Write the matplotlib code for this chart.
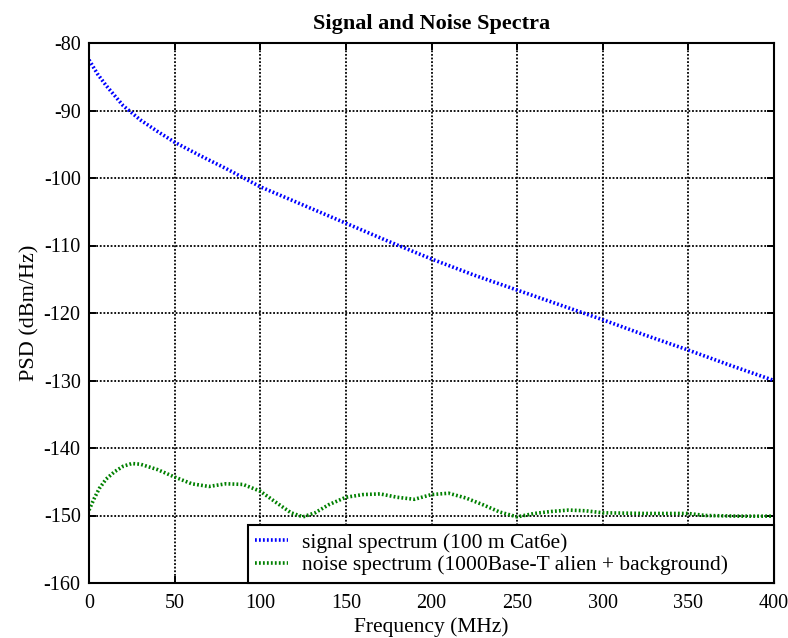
import matplotlib
matplotlib.use("Agg")
import matplotlib.pyplot as plt

plt.rcParams['font.family'] = ['Liberation Serif', 'DejaVu Serif']
plt.rcParams['axes.unicode_minus'] = False

sig_f = [0, 5, 10, 15, 20, 30, 40, 50, 65, 80, 100, 125, 150, 175, 200, 225, 250, 275, 300, 325, 350, 375, 400]
sig_psd = [-82.5, -84.6, -86.3, -87.8, -89.3, -91.4, -93.1, -94.7, -96.7, -98.6, -101.3, -104.0, -106.7, -109.4,
           -112.0, -114.4, -116.6, -118.8, -121.0, -123.3, -125.5, -127.8, -130.0]

noise_f = [0, 3, 6, 10, 15, 20, 25, 30, 40, 50, 60, 70, 80, 90, 100, 110, 118, 125, 132, 140, 150, 160, 170,
           180, 190, 200, 210, 220, 230, 240, 250, 260, 270, 280, 290, 300, 325, 350, 360, 380, 400]
noise_psd = [-149.2, -147.5, -146.0, -144.6, -143.5, -142.7, -142.3, -142.4, -143.2, -144.3, -145.3, -145.7,
             -145.3, -145.4, -146.4, -148.2, -149.6, -150.2, -149.6, -148.4, -147.3, -146.9, -146.8, -147.3,
             -147.6, -146.9, -146.7, -147.4, -148.4, -149.5, -150.2, -149.7, -149.4, -149.2, -149.3, -149.6,
             -149.7, -149.7, -150.0, -150.1, -150.1]

labels = ["signal spectrum (100 m Cat6e)", "noise spectrum (1000Base-T alien + background)"]
xticks = [0, 50, 100, 150, 200, 250, 300, 350, 400]
yticks = [-160, -150, -140, -130, -120, -110, -100, -90, -80]

fig = plt.figure(figsize=(7.88, 6.38), dpi=100)
ax = fig.add_axes([89/788, 1-583/638, (774-89)/788, (583-43)/638])

ax.plot(sig_f, sig_psd, color='#0000ff', lw=2.6, linestyle=(0, (0.5, 0.6)), label=labels[0])
ax.plot(noise_f, noise_psd, color='#008000', lw=2.6, linestyle=(0, (0.5, 0.6)), label=labels[1])

ax.set_xlim(0, 400)
ax.set_ylim(-160, -80)
ax.set_xticks(xticks)
ax.set_yticks(yticks)
ax.tick_params(direction='in', top=True, right=True, length=5, width=1.4, labelsize=14.5)
ax.tick_params(axis='y', pad=6)
ax.tick_params(axis='x', pad=8)
ax.grid(True, color='black', linestyle=(0, (1, 1.0)), linewidth=1.3)
for s in ax.spines.values():
    s.set_linewidth(1.5)

ax.set_title("Signal and Noise Spectra", fontsize=16, fontweight='bold', pad=10)
ax.set_xlabel("Frequency (MHz)", fontsize=15.5, labelpad=3)
ax.set_ylabel("PSD (dBm/Hz)", fontsize=16, labelpad=3)

leg = ax.legend(loc='lower left', bbox_to_anchor=(0.232, 0.0, 0.768, 0.0), mode='expand',
                borderaxespad=0, fontsize=15.5, fancybox=False, framealpha=1,
                edgecolor='black', handlelength=1.5, handletextpad=0.65, borderpad=0.35, labelspacing=0.12)
leg.get_frame().set_linewidth(1.5)

fig.savefig("out.png", dpi=100)
